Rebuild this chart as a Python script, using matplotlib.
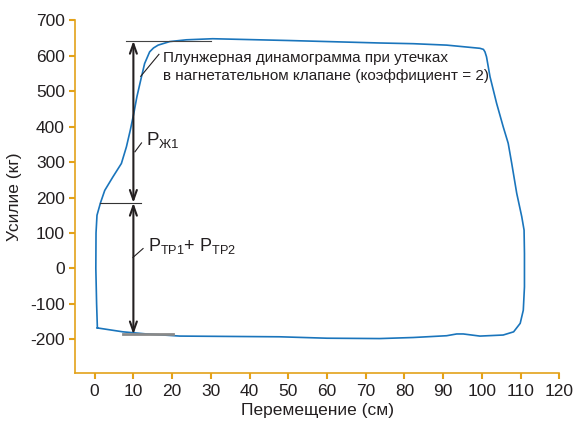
import matplotlib.pyplot as plt
import numpy as np

plt.rcParams['font.family'] = ['Liberation Sans', 'DejaVu Sans']
plt.rcParams['axes.unicode_minus'] = False

# dynamogram loop (stroke cm, load kg), traced clockwise from bottom-left corner
xx = [0.7, 0.5, 0.3, 0.35, 0.6, 1.5, 2.6, 4.7, 6.9, 8.2, 9.2, 10.1, 10.9, 12.1, 12.9,
      14.2, 15.2, 16.4, 19.4, 23.7, 30.5, 50.0, 73.6, 82.3, 90.9, 99.5, 100.4, 100.8,
      101.2, 102.1, 103.8, 105.5, 106.8, 107.7, 109.0, 110.3, 110.9, 111.0, 111.0,
      110.7, 109.9, 108.2, 105.5, 99.5, 95.2, 93.5, 90.9, 82.3, 73.6, 60.0, 47.8, 22.0,
      13.4, 7.3, 0.7]
yy = [-168, -100, 0, 100, 150, 185, 220, 258, 296, 343, 390, 437, 484, 541, 578,
      611, 622, 630, 640, 645, 648, 643, 636, 634, 630, 621, 618, 611,
      597, 541, 466, 400, 353, 297, 212, 146, 108, 42, -52,
      -118, -155, -179, -188, -191, -185, -185, -190, -195, -198, -197, -193, -191,
      -185, -179, -168]

p_top, p_mid, p_bot = 642, 185, -186
x_arrow = 10

xticks = np.arange(0, 121, 10)
yticks = np.arange(-200, 701, 100)

axcol = '#e3a21a'
txtcol = '#231f20'

fig = plt.figure(figsize=(5.74, 4.23), dpi=100)
ax = fig.add_axes([0.1312, 0.1175, 0.8432, 0.8345])

ax.plot(xx, yy, color='#1a75bc', lw=1.2)

# reference lines
ax.plot([8, 30], [p_top, p_top], color='#444444', lw=0.8)
ax.plot([1.5, 12], [p_mid, p_mid], color='#333333', lw=0.8)
ax.plot([7.2, 20.2], [p_bot, p_bot], color='#8a8a8a', lw=2)

arrow = dict(arrowstyle='<->,head_length=0.7,head_width=0.25', color=txtcol, lw=1.5,
             shrinkA=0, shrinkB=0)
ax.annotate('', xy=(x_arrow, p_top), xytext=(x_arrow, p_mid), arrowprops=arrow)
ax.annotate('', xy=(x_arrow, p_mid), xytext=(x_arrow, p_bot), arrowprops=arrow)

# leaders and labels
ax.plot([11.9, 16.6], [542, 604], color=txtcol, lw=0.8)
ax.text(17.6, 568, 'Плунжерная динамограмма при утечках\n'
        'в нагнетательном клапане (коэффициент = 2)',
        fontsize=11, color=txtcol, va='center', ha='left', linespacing=1.4)

ax.plot([10.4, 12.1], [329, 354], color=txtcol, lw=0.8)
ax.text(13.3, 362, r'$\mathregular{P_{Ж1}}$', fontsize=13.5, color=txtcol,
        va='center', ha='left')

ax.plot([9.9, 12.5], [31, 56], color=txtcol, lw=0.8)
ax.text(13.8, 62, r'$\mathregular{P_{ТР1}}$+ $\mathregular{P_{ТР2}}$', fontsize=13,
        color=txtcol, va='center', ha='left')

ax.set_xlim(-5, 120)
ax.set_ylim(-296, 700)
ax.set_xticks(xticks)
ax.set_yticks(yticks)
ax.spines['top'].set_visible(False)
ax.spines['right'].set_visible(False)
for s in ['left', 'bottom']:
    ax.spines[s].set_color(axcol)
    ax.spines[s].set_linewidth(1.2)
ax.tick_params(colors=axcol, labelcolor=txtcol, labelsize=12.5, length=4, width=1.5)

ax.set_xlabel('Перемещение (см)', fontsize=12.5, color=txtcol, labelpad=3)
ax.set_ylabel('Усилие (кг)', fontsize=12.5, color=txtcol, labelpad=6)

fig.savefig('out.png', dpi=100)
